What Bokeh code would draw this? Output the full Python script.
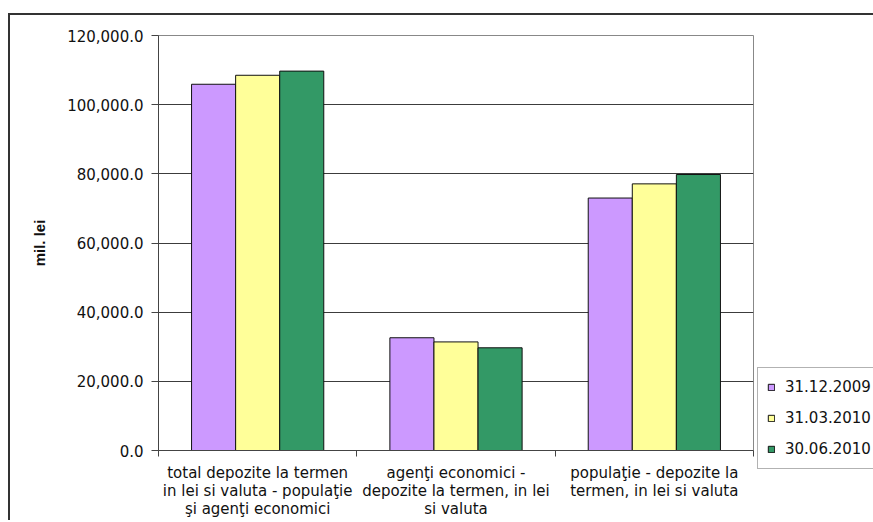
from bokeh.plotting import figure
from bokeh.models import (Range1d, FixedTicker, NumeralTickFormatter, Legend,
                          LegendItem)
from bokeh.embed import file_html
from bokeh.resources import INLINE

# Term deposits, million lei
categories = [
    "total depozite la termen\nin lei si valuta - populaţie\nşi agenţi economici",
    "agenţi economici -\ndepozite la termen, in lei\nsi valuta",
    "populaţie - depozite la\ntermen, in lei si valuta",
]
series_names = ["31.12.2009", "31.03.2010", "30.06.2010"]
dec_2009 = [105900, 32600, 73000]
mar_2010 = [108500, 31400, 77100]
jun_2010 = [109700, 29700, 79800]
y_ticks = [0, 20000, 40000, 60000, 80000, 100000, 120000]

colors = ["#CC99FF", "#FFFF99", "#339966"]
series = [dec_2009, mar_2010, jun_2010]

bar_w = 1 / 4.5
offsets = [-bar_w, 0.0, bar_w]

FONT = "DejaVu Sans"

p = figure(
    frame_width=595, frame_height=415,
    min_border_left=148, min_border_top=20, min_border_right=116, min_border_bottom=68,
    x_range=Range1d(0, len(categories)), y_range=Range1d(0, 120000),
    output_backend="svg", toolbar_location=None,
    background_fill_color="white", border_fill_color="white",
)
p.styles = {
    "margin-left": "8px", "margin-top": "13px",
    "border-left": "2px solid #333333", "border-top": "2px solid #333333",
}

renderers = []
for vals, col, off in zip(series, colors, offsets):
    xs = [i + 0.5 + off for i in range(len(categories))]
    r = p.vbar(x=xs, top=vals, width=bar_w, bottom=0,
               fill_color=col, line_color="#111111", line_width=1)
    renderers.append(r)

# frame
p.outline_line_color = "#888888"
p.outline_line_width = 1

# grid
p.xgrid.visible = False
p.ygrid.ticker = FixedTicker(ticks=y_ticks)
p.ygrid.grid_line_color = "#3c3c3c"
p.ygrid.grid_line_width = 1

# y axis
ya = p.yaxis[0]
ya.ticker = FixedTicker(ticks=y_ticks)
ya.formatter = NumeralTickFormatter(format="0,0.0")
ya.axis_line_color = "#444444"
ya.major_tick_line_color = "#444444"
ya.major_tick_out = 7
ya.major_tick_in = 0
ya.minor_tick_line_color = None
ya.major_label_standoff = 8
ya.major_label_text_font = FONT
ya.major_label_text_font_size = "15px"
ya.major_label_text_color = "#111111"
ya.axis_label = "mil. lei"
ya.axis_label_text_font = "Liberation Sans"
ya.axis_label_text_font_style = "bold"
ya.axis_label_text_font_size = "15px"
ya.axis_label_text_color = "#111111"
ya.axis_label_standoff = 16

# x axis: labels centred on each group, tick marks on group boundaries
xa = p.xaxis[0]
centers = [i + 0.5 for i in range(len(categories))]
bounds = [float(i) for i in range(len(categories) + 1)]
xa.ticker = FixedTicker(ticks=centers, minor_ticks=bounds)
xa.major_label_overrides = {c: lab for c, lab in zip(centers, categories)}
xa.axis_line_color = "#444444"
xa.major_tick_line_color = None
xa.major_tick_out = 0
xa.major_tick_in = 0
xa.minor_tick_line_color = "#444444"
xa.minor_tick_out = 6
xa.minor_tick_in = 0
xa.major_label_standoff = 7
xa.major_label_text_font = FONT
xa.major_label_text_font_size = "15px"
xa.major_label_text_line_height = 1.0
xa.major_label_text_color = "#111111"

legend = Legend(
    items=[LegendItem(label=n, renderers=[r]) for n, r in zip(series_names, renderers)],
    location=(4, -19),
    orientation="vertical",
    border_line_color="#666666", border_line_width=1,
    background_fill_color="white", background_fill_alpha=1,
    padding=9, margin=0, spacing=11,
    glyph_width=8, glyph_height=8, label_height=20, label_standoff=10,
    label_text_font=FONT, label_text_font_size="15px",
    label_text_color="#111111",
)
p.add_layout(legend, "right")

open("out.html", "w").write(file_html(p, INLINE))
